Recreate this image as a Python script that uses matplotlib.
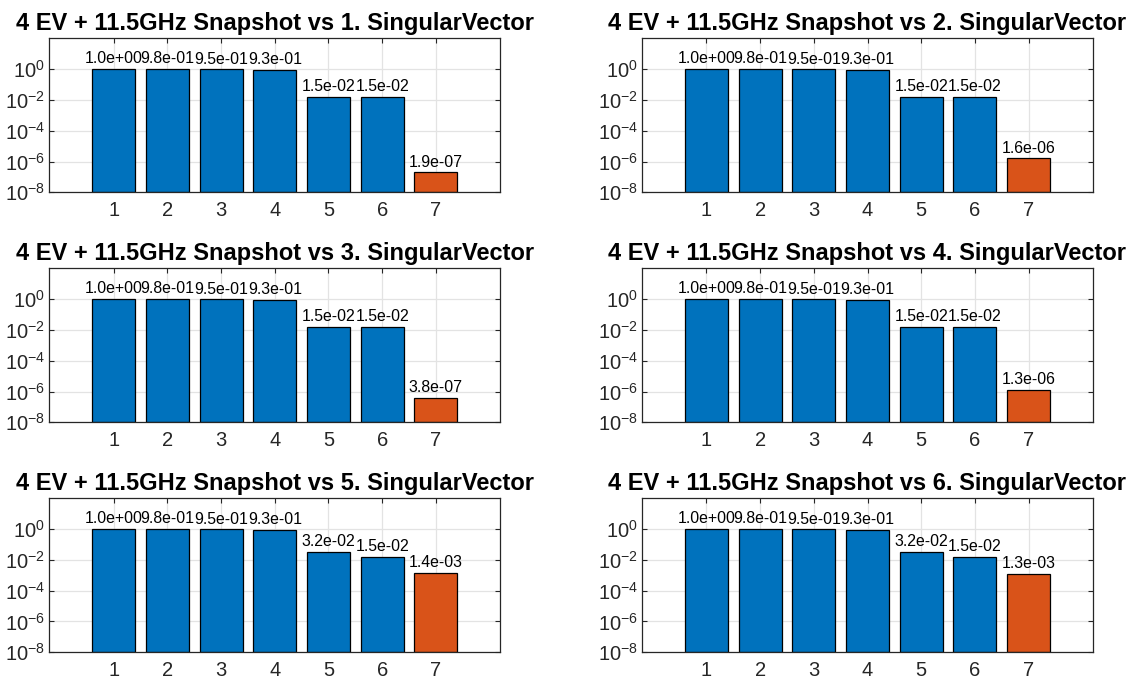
import matplotlib
matplotlib.use("Agg")
import matplotlib.pyplot as plt
import numpy as np
from matplotlib.ticker import FixedLocator, NullLocator, LogFormatterMathtext

plt.rcParams['font.family'] = ['Liberation Sans', 'DejaVu Sans']
plt.rcParams['mathtext.fontset'] = 'custom'
plt.rcParams['mathtext.rm'] = 'Liberation Sans'
plt.rcParams['mathtext.default'] = 'regular'

# Singular value index on the x axis
indices = [1, 2, 3, 4, 5, 6, 7]

# Singular values for each snapshot comparison
values_sv1 = [1.0, 0.98, 0.95, 0.93, 1.5e-2, 1.5e-2, 1.9e-7]
values_sv2 = [1.0, 0.98, 0.95, 0.93, 1.5e-2, 1.5e-2, 1.6e-6]
values_sv3 = [1.0, 0.98, 0.95, 0.93, 1.5e-2, 1.5e-2, 3.8e-7]
values_sv4 = [1.0, 0.98, 0.95, 0.93, 1.5e-2, 1.5e-2, 1.3e-6]
values_sv5 = [1.0, 0.98, 0.95, 0.93, 3.2e-2, 1.5e-2, 1.4e-3]
values_sv6 = [1.0, 0.98, 0.95, 0.93, 3.2e-2, 1.5e-2, 1.3e-3]

panels = [values_sv1, values_sv2, values_sv3, values_sv4, values_sv5, values_sv6]
titles = [f"4 EV + 11.5GHz Snapshot vs {k}. SingularVector" for k in range(1, 7)]

BLUE = "#0072BD"
ORANGE = "#D95319"
AX_COLOR = "#262626"
GRID_COLOR = "#e3e3e3"

W, H = 1133, 684
fig = plt.figure(figsize=(W / 100, H / 100), dpi=100)

col_left = [49.3, 642.0]
row_top = [38.3, 268.3, 498.3]
ax_w, ax_h = 451.0, 154.0

for i, (vals, title) in enumerate(zip(panels, titles)):
    r, c = divmod(i, 2)
    left = col_left[c] / W
    bottom = 1 - (row_top[r] + ax_h) / H
    ax = fig.add_axes([left, bottom, ax_w / W, ax_h / H])
    ax.set_axisbelow(True)

    colors = [BLUE] * (len(vals) - 1) + [ORANGE]
    ax.bar(indices, vals, width=0.8, color=colors,
           edgecolor="black", linewidth=0.9, bottom=1e-8)
    ax.set_yscale("log")
    ax.set_ylim(1e-8, 1e2)
    ax.set_xlim(-0.2, 8.2)

    for x, v in zip(indices, vals):
        ax.annotate(f"{v:.1e}", xy=(x, v), xytext=(0, 2.0),
                    textcoords="offset points", ha="center", va="bottom",
                    fontsize=11.4, color="black")

    ax.yaxis.set_major_locator(FixedLocator([1e-8, 1e-6, 1e-4, 1e-2, 1e0]))
    ax.yaxis.set_major_formatter(LogFormatterMathtext())
    ax.yaxis.set_minor_locator(NullLocator())
    ax.set_xticks(indices)
    ax.tick_params(axis="both", which="major", direction="in", length=3.5,
                   width=0.8, colors=AX_COLOR, labelsize=14.5,
                   top=True, right=True, labelcolor=AX_COLOR)
    ax.tick_params(axis="x", pad=6)
    ax.tick_params(axis="y", pad=3)
    ax.grid(True, color=GRID_COLOR, linewidth=0.9)
    for sp in ax.spines.values():
        sp.set_color(AX_COLOR)
        sp.set_linewidth(0.9)

    ax.set_title(title, fontsize=17, fontweight="bold", pad=6.0, color="black")

fig.savefig("out.png", dpi=100)
